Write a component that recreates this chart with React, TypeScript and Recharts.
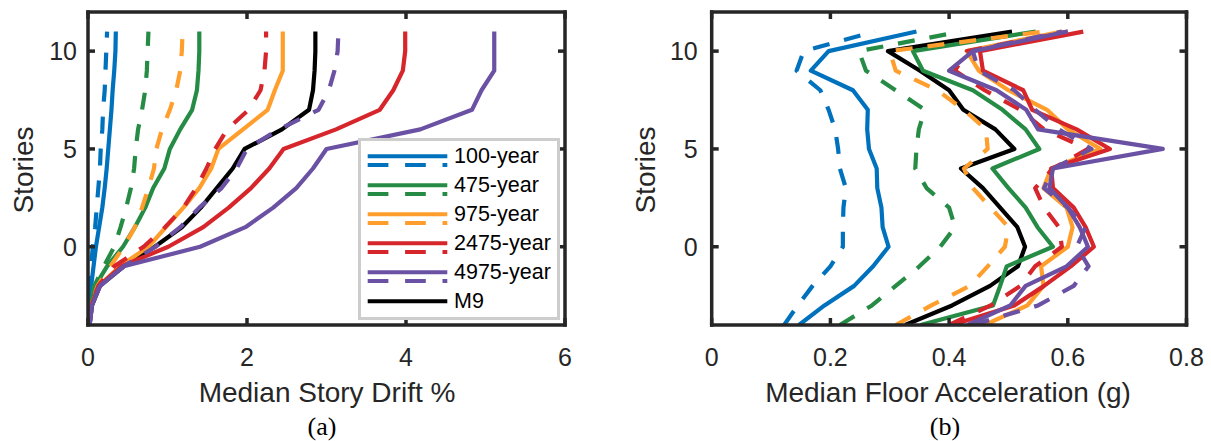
import React from 'react';
import { LineChart, Line, XAxis, YAxis, Legend } from 'recharts';

// ---------- shared ----------
const STORIES = [-4, -3, -2, -1, 0, 1, 2, 3, 4, 5, 6, 7, 8, 9, 10, 11];
const PERIOD_LABELS = ['100-year', '475-year', '975-year', '2475-year', '4975-year', 'M9'];
const PERIOD_COLORS = ['#0072BD', '#268C45', '#FF9E2C', '#D7262B', '#6A51A3', '#000000'];
const STORY_TICKS = [0, 5, 10];
const STORY_DOMAIN = [-4, 12];

// ---------- panel (a): median story drift % ----------
const DRIFT_TICKS = [0, 2, 4, 6];
const DRIFT_100_SOLID = [0, 0.02, 0.04, 0.07, 0.1, 0.14, 0.18, 0.21, 0.235, 0.255, 0.275, 0.295, 0.31, 0.33, 0.345, 0.35];
const DRIFT_100_DASH = [0, 0.01, 0.02, 0.04, 0.06, 0.09, 0.11, 0.13, 0.15, 0.16, 0.18, 0.19, 0.21, 0.22, 0.23, 0.24];
const DRIFT_475_SOLID = [0, 0.03, 0.09, 0.24, 0.44, 0.59, 0.72, 0.82, 0.96, 1.03, 1.16, 1.31, 1.37, 1.39, 1.4, 1.4];
const DRIFT_475_DASH = [0, 0.03, 0.08, 0.2, 0.33, 0.41, 0.48, 0.54, 0.58, 0.6, 0.63, 0.68, 0.72, 0.74, 0.75, 0.76];
const DRIFT_975_SOLID = [0, 0.04, 0.14, 0.4, 0.76, 0.98, 1.2, 1.4, 1.55, 1.64, 1.95, 2.26, 2.35, 2.45, 2.45, 2.45];
const DRIFT_975_DASH = [0, 0.04, 0.12, 0.28, 0.45, 0.59, 0.68, 0.76, 0.83, 0.86, 0.93, 1.03, 1.11, 1.16, 1.18, 1.19];
const DRIFT_2475_SOLID = [0, 0.04, 0.14, 0.42, 1.01, 1.45, 1.77, 2.05, 2.28, 2.46, 3.12, 3.67, 3.84, 3.96, 3.99, 3.99];
const DRIFT_2475_DASH = [0, 0.04, 0.13, 0.33, 0.7, 0.97, 1.2, 1.36, 1.49, 1.6, 1.75, 2.02, 2.17, 2.22, 2.24, 2.24];
const DRIFT_4975_SOLID = [0.02, 0.05, 0.15, 0.45, 1.41, 1.98, 2.33, 2.62, 2.83, 3.0, 4.18, 4.83, 4.95, 5.11, 5.11, 5.11];
const DRIFT_4975_DASH = [0.02, 0.05, 0.15, 0.45, 0.85, 1.16, 1.4, 1.68, 1.87, 2.0, 2.4, 2.9, 3.03, 3.1, 3.14, 3.15];
const DRIFT_M9 = [0.02, 0.05, 0.15, 0.45, 0.84, 1.18, 1.42, 1.62, 1.82, 1.97, 2.44, 2.78, 2.83, 2.85, 2.86, 2.86];

// ---------- panel (b): median floor acceleration (g) ----------
const ACC_TICKS = [0, 0.2, 0.4, 0.6, 0.8];
const ACC_100_SOLID = [0.147, 0.19, 0.24, 0.272, 0.298, 0.288, 0.286, 0.279, 0.278, 0.265, 0.262, 0.263, 0.238, 0.167, 0.197, 0.345];
const ACC_100_DASH = [0.122, 0.145, 0.17, 0.2, 0.221, 0.221, 0.222, 0.226, 0.216, 0.213, 0.208, 0.197, 0.183, 0.143, 0.155, 0.275];
const ACC_475_SOLID = [0.352, 0.474, 0.486, 0.497, 0.575, 0.549, 0.529, 0.5, 0.473, 0.552, 0.529, 0.49, 0.44, 0.356, 0.339, 0.546];
const ACC_475_DASH = [0.216, 0.27, 0.31, 0.35, 0.385, 0.41, 0.4, 0.362, 0.343, 0.345, 0.349, 0.359, 0.31, 0.26, 0.248, 0.42];
const ACC_975_SOLID = [0.46, 0.532, 0.559, 0.555, 0.6, 0.608, 0.598, 0.559, 0.572, 0.655, 0.6, 0.565, 0.5, 0.45, 0.43, 0.59];
const ACC_975_DASH = [0.31, 0.37, 0.435, 0.465, 0.494, 0.5, 0.47, 0.44, 0.425, 0.465, 0.462, 0.425, 0.38, 0.31, 0.3, 0.56];
const ACC_2475_SOLID = [0.405, 0.51, 0.56, 0.605, 0.644, 0.63, 0.61, 0.575, 0.572, 0.671, 0.615, 0.54, 0.525, 0.457, 0.452, 0.626];
const ACC_2475_DASH = [0.4, 0.47, 0.52, 0.545, 0.59, 0.585, 0.56, 0.545, 0.575, 0.634, 0.56, 0.52, 0.46, 0.41, 0.43, 0.6];
const ACC_4975_SOLID = [0.431, 0.503, 0.529, 0.598, 0.634, 0.62, 0.6, 0.569, 0.575, 0.76, 0.55, 0.53, 0.48, 0.4, 0.44, 0.6];
const ACC_4975_DASH = [0.44, 0.55, 0.61, 0.635, 0.615, 0.63, 0.6, 0.56, 0.575, 0.64, 0.585, 0.545, 0.51, 0.45, 0.44, 0.59];
const ACC_M9 = [0.326, 0.405, 0.469, 0.516, 0.528, 0.515, 0.486, 0.457, 0.42, 0.51, 0.478, 0.424, 0.4, 0.351, 0.297, 0.506];

// ---------- styling ----------
const AXIS_COLOR = '#262626';
const SANS = '"Liberation Sans", Arial, Helvetica, sans-serif';
const SERIF = '"Liberation Serif", "Times New Roman", serif';
const LINE_W = 4.2;
const DASH = '17 15';

type Series = { id: string; color: string; dashed: boolean; values: number[] };

function buildSeries(solid: number[][], dashed: number[][], m9: number[]): Series[] {
  const out: Series[] = [{ id: 'M9', color: PERIOD_COLORS[5], dashed: false, values: m9 }];
  for (let i = 0; i < 5; i++) {
    out.push({ id: PERIOD_LABELS[i] + '-s', color: PERIOD_COLORS[i], dashed: false, values: solid[i] });
    out.push({ id: PERIOD_LABELS[i] + '-d', color: PERIOD_COLORS[i], dashed: true, values: dashed[i] });
  }
  return out;
}

const DRIFT_SERIES = buildSeries(
  [DRIFT_100_SOLID, DRIFT_475_SOLID, DRIFT_975_SOLID, DRIFT_2475_SOLID, DRIFT_4975_SOLID],
  [DRIFT_100_DASH, DRIFT_475_DASH, DRIFT_975_DASH, DRIFT_2475_DASH, DRIFT_4975_DASH],
  DRIFT_M9,
);
const ACC_SERIES = buildSeries(
  [ACC_100_SOLID, ACC_475_SOLID, ACC_975_SOLID, ACC_2475_SOLID, ACC_4975_SOLID],
  [ACC_100_DASH, ACC_475_DASH, ACC_975_DASH, ACC_2475_DASH, ACC_4975_DASH],
  ACC_M9,
);

const toPoints = (values: number[]) => STORIES.map((s, i) => ({ v: values[i], s }));

const frameLine = { stroke: AXIS_COLOR, strokeWidth: 3.5, strokeLinecap: 'square' as const };
const TICK_LEN = 7;
const TICK_FONT = 25;

const BottomTick = (p: any) => (
  <g>
    <line x1={p.x} x2={p.x} y1={p.y} y2={p.y - TICK_LEN} stroke={AXIS_COLOR} strokeWidth={3.5} />
    <text x={p.x} y={p.y + 41} textAnchor="middle" fontSize={TICK_FONT} fontFamily={SANS} fill={AXIS_COLOR}>
      {String(p.payload.value)}
    </text>
  </g>
);
const TopTick = (p: any) => (
  <line x1={p.x} x2={p.x} y1={p.y} y2={p.y + TICK_LEN} stroke={AXIS_COLOR} strokeWidth={3.5} />
);
const makeLeftTick = (gap: number) => (p: any) => (
  <g>
    <line x1={p.x} x2={p.x + TICK_LEN} y1={p.y} y2={p.y} stroke={AXIS_COLOR} strokeWidth={3.5} />
    <text x={p.x - gap} y={p.y + 9} textAnchor="end" fontSize={TICK_FONT} fontFamily={SANS} fill={AXIS_COLOR}>
      {String(p.payload.value)}
    </text>
  </g>
);
const RightTick = (p: any) => (
  <line x1={p.x} x2={p.x - TICK_LEN} y1={p.y} y2={p.y} stroke={AXIS_COLOR} strokeWidth={3.5} />
);

const LegendBox = () => (
  <svg width={202} height={182} style={{ display: 'block' }}>
    <rect x={1.5} y={1.5} width={199} height={179} fill="#ffffff" stroke="#CDCDCD" strokeWidth={3} />
    {PERIOD_LABELS.map((name, i) => {
      const base = 25.3 + 29 * i;
      const c = PERIOD_COLORS[i];
      return (
        <g key={name}>
          <line x1={9.7} x2={89.3} y1={base - 7} y2={base - 7} stroke={c} strokeWidth={4} />
          {i < 5 && (
            <line x1={9.7} x2={89.3} y1={base + 1.8} y2={base + 1.8} stroke={c} strokeWidth={4} strokeDasharray="20.7 16.7" />
          )}
          <text x={96} y={base} fontSize={21.5} fontFamily={SANS} fill="#000">
            {name}
          </text>
        </g>
      );
    })}
  </svg>
);

type PanelProps = {
  series: Series[];
  xDomain: number[];
  xTicks: number[];
  width: number;
  margin: { top: number; right: number; bottom: number; left: number };
  labelGap: number;
  showLegend: boolean;
};

function Panel({ series, xDomain, xTicks, width, margin, labelGap, showLegend }: PanelProps) {
  return (
    <LineChart width={width} height={441} margin={margin}>
      <XAxis
        xAxisId="b"
        type="number"
        dataKey="v"
        domain={xDomain}
        ticks={xTicks}
        interval={0}
        height={1}
        tickSize={0}
        tickMargin={0}
        tickLine={false}
        axisLine={frameLine}
        tick={BottomTick}
        allowDataOverflow
      />
      <XAxis
        xAxisId="t"
        orientation="top"
        type="number"
        dataKey="v"
        domain={xDomain}
        ticks={xTicks}
        interval={0}
        height={1}
        tickSize={0}
        tickMargin={0}
        tickLine={false}
        axisLine={frameLine}
        tick={TopTick}
        allowDataOverflow
      />
      <YAxis
        yAxisId="l"
        type="number"
        domain={STORY_DOMAIN}
        ticks={STORY_TICKS}
        interval={0}
        width={1}
        tickSize={0}
        tickMargin={0}
        tickLine={false}
        axisLine={frameLine}
        tick={makeLeftTick(labelGap)}
        allowDataOverflow
      />
      <YAxis
        yAxisId="r"
        orientation="right"
        type="number"
        domain={STORY_DOMAIN}
        ticks={STORY_TICKS}
        interval={0}
        width={1}
        tickSize={0}
        tickMargin={0}
        tickLine={false}
        axisLine={frameLine}
        tick={RightTick}
        allowDataOverflow
      />
      {series.map((s) => (
        <Line
          key={s.id}
          xAxisId="b"
          yAxisId="l"
          data={toPoints(s.values)}
          dataKey="s"
          type="linear"
          stroke={s.color}
          strokeWidth={LINE_W}
          strokeDasharray={s.dashed ? DASH : undefined}
          strokeLinejoin="round"
          dot={false}
          activeDot={false}
          isAnimationActive={false}
          legendType="none"
        />
      ))}
      {showLegend && (
        <Legend
          layout="vertical"
          align="center"
          verticalAlign="middle"
          wrapperStyle={{ left: 358, top: 138, width: 202, height: 182 }}
          content={() => <LegendBox />}
        />
      )}
    </LineChart>
  );
}

export default function App() {
  const textStyle = { fontFamily: SANS, fill: AXIS_COLOR };
  return (
    <div style={{ position: 'absolute', left: 0, top: 0, width: 1211, height: 441, background: '#fff', overflow: 'hidden' }}>
      <div style={{ position: 'absolute', left: 0, top: 0 }}>
        <Panel
          series={DRIFT_SERIES}
          xDomain={[0, 6]}
          xTicks={DRIFT_TICKS}
          width={600}
          margin={{ top: 11, right: 34, bottom: 115, left: 87 }}
          labelGap={11}
          showLegend
        />
      </div>
      <div style={{ position: 'absolute', left: 600, top: 0 }}>
        <Panel
          series={ACC_SERIES}
          xDomain={[0, 0.8]}
          xTicks={ACC_TICKS}
          width={611}
          margin={{ top: 11, right: 23.5, bottom: 115, left: 110.7 }}
          labelGap={14}
          showLegend={false}
        />
      </div>
      <svg width={1211} height={441} style={{ position: 'absolute', left: 0, top: 0, pointerEvents: 'none' }}>
        <text x={33} y={170} transform="rotate(-90 33 170)" textAnchor="middle" fontSize={28} {...textStyle}>
          Stories
        </text>
        <text x={655} y={170} transform="rotate(-90 655 170)" textAnchor="middle" fontSize={28} {...textStyle}>
          Stories
        </text>
        <text x={327} y={402} textAnchor="middle" fontSize={28} {...textStyle}>
          Median Story Drift %
        </text>
        <text x={948} y={402} textAnchor="middle" fontSize={28} {...textStyle}>
          Median Floor Acceleration (g)
        </text>
        <text x={322} y={435} textAnchor="middle" fontSize={26} fontFamily={SERIF} fill="#000">
          (a)
        </text>
        <text x={945} y={435} textAnchor="middle" fontSize={26} fontFamily={SERIF} fill="#000">
          (b)
        </text>
      </svg>
    </div>
  );
}
